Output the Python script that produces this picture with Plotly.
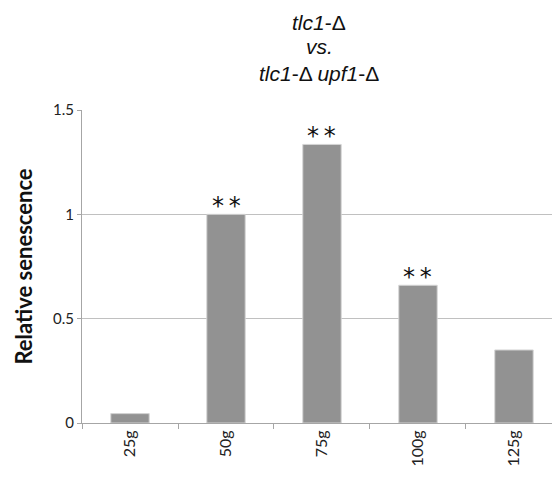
import plotly.graph_objects as go

categories = ["25g", "50g", "75g", "100g", "125g"]
values = [0.045, 1.0, 1.335, 0.66, 0.35]
marks = ["", "**", "**", "**", ""]
y_ticks = [0, 0.5, 1, 1.5]
y_tick_labels = ["0", "0.5", "1", "1.5"]
title_lines = ["<i>tlc1</i>-Δ", "<i>vs.</i>", "<i>tlc1</i>-Δ <i>upf1</i>-Δ"]

fig = go.Figure()
fig.add_trace(go.Bar(
    x=categories, y=values, width=0.4,
    marker=dict(color="#929292", line=dict(color="#d4d4d4", width=1)),
))

for c, v, m in zip(categories, values, marks):
    if m:
        fig.add_annotation(x=c, y=v, text=m.replace("**", "*\u2009*"), showarrow=False,
                           yanchor="bottom", yshift=-8,
                           font=dict(family="DejaVu Sans", size=24, color="#111"))

for line, ypos in zip(title_lines, [1.279, 1.204, 1.118]):
    fig.add_annotation(xref="paper", yref="paper", x=0.505, y=ypos, text=line,
                       showarrow=False, xanchor="center", yanchor="middle",
                       font=dict(family="Liberation Sans", size=21, color="#111"))

fig.update_layout(
    width=552, height=477,
    margin=dict(l=82, r=0, t=109.5, b=54),
    plot_bgcolor="white", paper_bgcolor="white",
    showlegend=False,
)
fig.update_xaxes(
    type="category", range=[-0.5, 4.396],
    showline=True, linecolor="#a6a6a6", linewidth=1,
    ticks="outside", tickson="boundaries", ticklen=5, tickcolor="#a6a6a6",
    tickangle=-90, tickfont=dict(family="Lato", size=16, color="#222"),
    showgrid=False,
)
fig.update_yaxes(
    range=[0, 1.5], tickvals=y_ticks, ticktext=y_tick_labels,
    showline=True, linecolor="#a6a6a6", linewidth=1,
    ticks="outside", ticklen=4, tickcolor="#a6a6a6",
    showgrid=True, gridcolor="#c0c0c0", gridwidth=1,
    zeroline=False,
    tickfont=dict(family="Lato", size=15, color="#222"),
    title=dict(text="<b>Relative senescence</b>", font=dict(family="Lato", size=22, color="#111"), standoff=14),
)

fig.write_html(
    "out.html",
    config={"displayModeBar": False},
    post_script="document.body.style.margin='0';document.body.style.overflow='hidden';",
)
